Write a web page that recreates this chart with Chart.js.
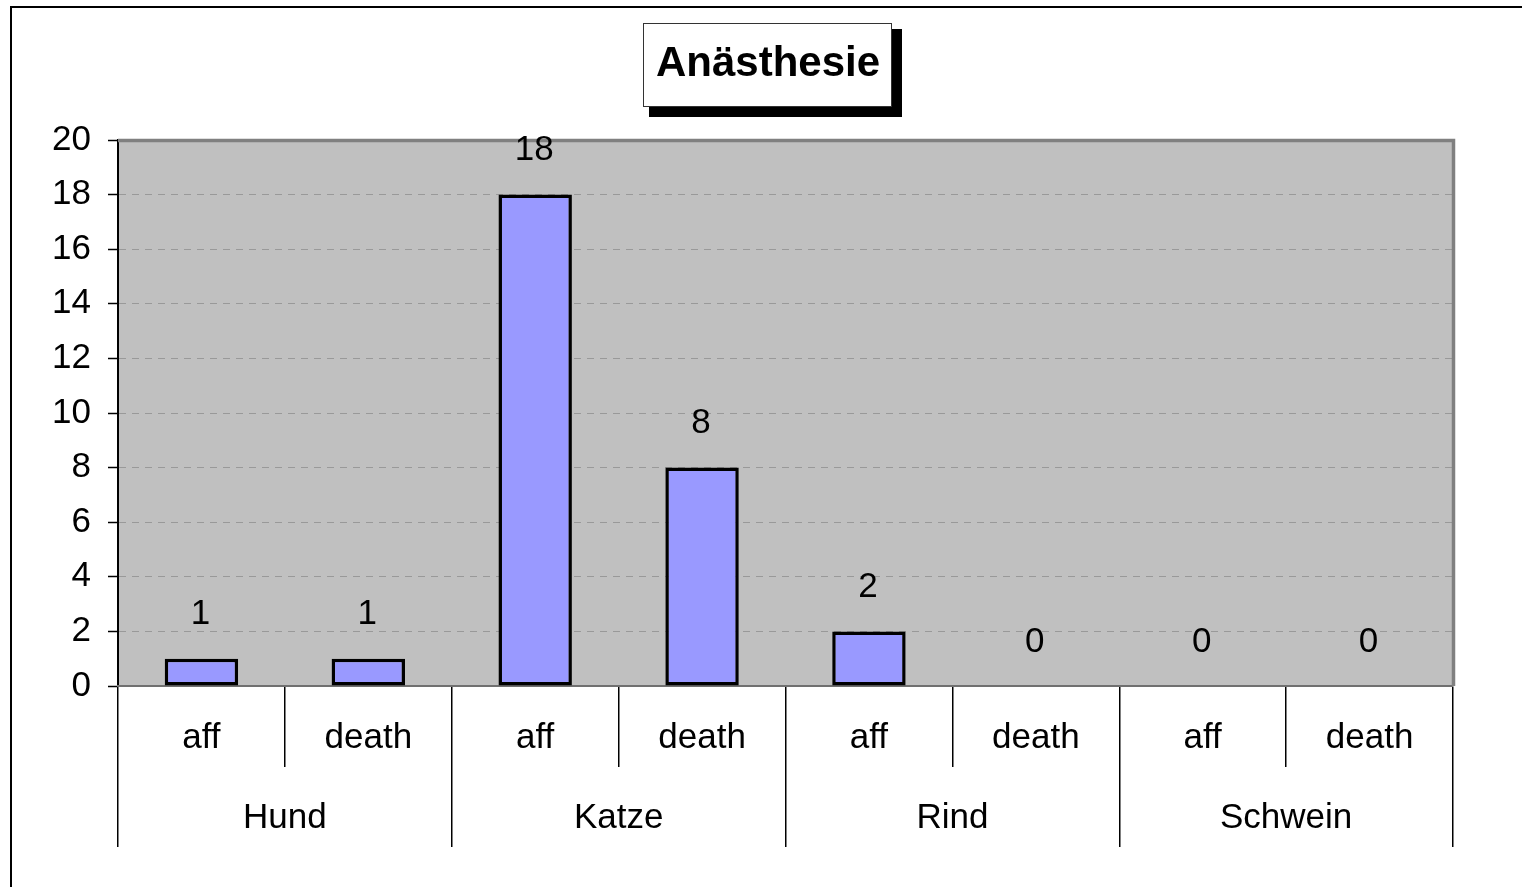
<!DOCTYPE html>
<html>
<head>
<meta charset="utf-8">
<title>Anästhesie</title>
<script src="https://cdn.jsdelivr.net/npm/chart.js@4"></script>
<style>
  html, body { margin: 0; padding: 0; background: #fff; }
  canvas { display: block; }
</style>
</head>
<body>
<canvas id="anaesthesieChart" width="1522" height="887"></canvas>
<script>
// --- data ---
const groups = ['Hund', 'Katze', 'Rind', 'Schwein'];
const subLabels = ['aff', 'death', 'aff', 'death', 'aff', 'death', 'aff', 'death'];
const values = [1, 1, 18, 8, 2, 0, 0, 0];
const yTicks = [0, 2, 4, 6, 8, 10, 12, 14, 16, 18, 20];

const FONT = '"Liberation Sans", Arial, sans-serif';

// grauer Hintergrund + Rahmen der Zeichenfläche
const plotArea = {
    id: 'plotArea',
    beforeDraw(chart) {
        const { ctx, chartArea: a } = chart;
        ctx.save();
        // äußerer Rahmen (links + oben)
        ctx.strokeStyle = '#000';
        ctx.lineWidth = 2;
        ctx.beginPath();
        ctx.moveTo(11, chart.height);
        ctx.lineTo(11, 7);
        ctx.lineTo(chart.width, 7);
        ctx.stroke();
        ctx.fillStyle = '#C0C0C0';
        ctx.fillRect(a.left, a.top, a.right - a.left, a.bottom - a.top);
        ctx.restore();
    },
    beforeDatasetsDraw(chart) {
        const { ctx, chartArea: a } = chart;
        ctx.save();
        ctx.strokeStyle = '#808080';
        ctx.lineWidth = 3.5;
        ctx.beginPath();
        ctx.moveTo(a.left, a.top + 0.5);
        ctx.lineTo(a.right + 0.5, a.top + 0.5);
        ctx.lineTo(a.right + 0.5, a.bottom);
        ctx.stroke();
        ctx.restore();
    }
};

// Titel mit Schattenkasten
const titleBox = {
    id: 'titleBox',
    afterDraw(chart) {
        const { ctx } = chart;
        ctx.save();
        ctx.fillStyle = '#000';
        ctx.fillRect(649, 29, 253, 88);
        ctx.fillStyle = '#fff';
        ctx.fillRect(643, 23, 249, 84);
        ctx.strokeStyle = '#333';
        ctx.lineWidth = 1;
        ctx.strokeRect(643.5, 23.5, 248, 83);
        ctx.fillStyle = '#000';
        ctx.font = 'bold 42px ' + FONT;
        ctx.textAlign = 'center';
        ctx.textBaseline = 'alphabetic';
        ctx.fillText('Anästhesie', 768, 76);
        ctx.restore();
    }
};

// Werte über den Balken
const valueLabels = {
    id: 'valueLabels',
    afterDatasetsDraw(chart) {
        const { ctx } = chart;
        const meta = chart.getDatasetMeta(0);
        ctx.save();
        ctx.fillStyle = '#000';
        ctx.font = '35px ' + FONT;
        ctx.textAlign = 'center';
        ctx.textBaseline = 'middle';
        meta.data.forEach((bar, i) => {
            ctx.fillText(String(values[i]), bar.x - 1, bar.y - 44);
        });
        ctx.restore();
    }
};

new Chart(document.getElementById('anaesthesieChart'), {
    type: 'bar',
    data: {
        labels: subLabels,
        datasets: [{
            data: values,
            backgroundColor: '#9999FF',
            borderColor: '#000',
            borderWidth: (c) => (values[c.dataIndex] ? 3.5 : 0),
            borderSkipped: false,
            categoryPercentage: 1,
            barPercentage: 0.44
        }]
    },
    options: {
        responsive: false,
        animation: false,
        devicePixelRatio: 1,
        layout: { padding: { top: 140, right: 69, left: 0, bottom: 0 } },
        plugins: {
            legend: { display: false },
            title: { display: false },
            tooltip: { enabled: false }
        },
        scales: {
            y: {
                min: 0,
                max: 20,
                afterFit: (s) => { s.width = 118; },
                afterBuildTicks: (s) => { s.ticks = yTicks.map(v => ({ value: v })); },
                ticks: {
                    color: '#000',
                    font: { family: FONT, size: 35 },
                    padding: 17
                },
                grid: {
                    color: '#999',
                    lineWidth: 1,
                    tickLength: 10,
                    tickColor: '#000',
                    tickWidth: 1.5,
                    tickBorderDash: []
                },
                border: { display: true, color: '#000', width: 2, dash: [7, 6] }
            },
            x: {
                weight: 0,
                afterFit: (s) => { s.height = 81; },
                ticks: {
                    color: '#000',
                    font: { family: FONT, size: 35 },
                    padding: -50,
                    maxRotation: 0,
                    autoSkip: false
                },
                grid: {
                    offset: true,
                    drawOnChartArea: false,
                    tickLength: 81,
                    color: '#000',
                    lineWidth: 1.5
                },
                border: { display: true, color: '#707070', width: 2 }
            },
            x2: {
                type: 'category',
                position: 'bottom',
                weight: 1,
                labels: groups,
                offset: true,
                afterFit: (s) => { s.height = 120; },
                ticks: {
                    color: '#000',
                    font: { family: FONT, size: 35 },
                    padding: -50,
                    maxRotation: 0,
                    autoSkip: false
                },
                grid: {
                    offset: true,
                    drawOnChartArea: false,
                    tickLength: 80,
                    color: '#000',
                    lineWidth: 1.5
                },
                border: { display: false }
            }
        }
    },
    plugins: [plotArea, titleBox, valueLabels]
});
</script>
</body>
</html>
